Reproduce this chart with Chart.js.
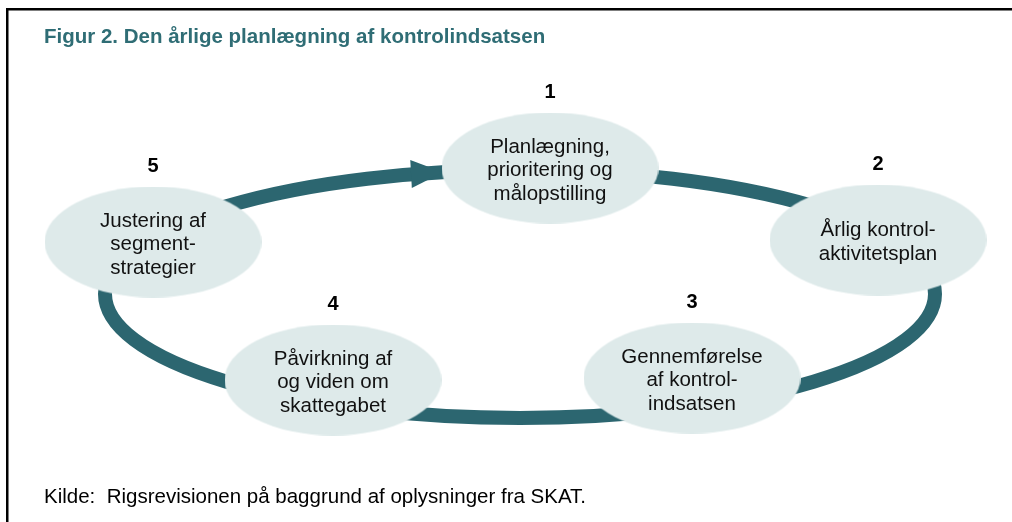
<!DOCTYPE html>
<html lang="da">
<head>
<meta charset="utf-8">
<title>Figur 2. Den årlige planlægning af kontrolindsatsen</title>
<script src="https://cdn.jsdelivr.net/npm/chart.js@4.4.1/dist/chart.umd.min.js"></script>
<style>
    html, body { margin: 0; padding: 0; background: #fff; }
    #wrap { width: 1012px; height: 522px; }
</style>
</head>
<body>
<div id="wrap"><canvas id="cycleChart" width="1012" height="522"></canvas></div>
<script>
(function () {
    var titleText = 'Figur 2. Den årlige planlægning af kontrolindsatsen';
    var sourceText = 'Kilde:  Rigsrevisionen på baggrund af oplysninger fra SKAT.';

    var stepNumbers = ['1', '2', '3', '4', '5'];
    var stepLabels = [
        ['Planlægning,', 'prioritering og', 'målopstilling'],
        ['Årlig kontrol-', 'aktivitetsplan'],
        ['Gennemførelse', 'af kontrol-', 'indsatsen'],
        ['Påvirkning af', 'og viden om', 'skattegabet'],
        ['Justering af', 'segment-', 'strategier']
    ];
    var stepX = [550, 878, 692, 333, 153];
    var stepY = [168, 240, 378, 380, 242];

    // the cycle arrow, in the same units as the steps
    var cycleCenter = [520, 294];
    var cycleRadius = [415, 124];
    var arrowTipX = 443;

    var ringColor = '#2C6670';
    var nodeColor = '#DEEAEA';
    var titleColor = '#2F6D75';
    var fontFamily = '"Liberation Sans", Arial, Helvetica, sans-serif';

    function makeNode(w, h, color) {
        var c = document.createElement('canvas');
        c.width = w;
        c.height = h;
        var g = c.getContext('2d');
        g.fillStyle = color;
        g.beginPath();
        g.ellipse(w / 2, h / 2, w / 2, h / 2, 0, 0, 2 * Math.PI);
        g.fill();
        return c;
    }

    var points = stepX.map(function (x, i) { return { x: x, y: stepY[i] }; });

    var cyclePlugin = {
        id: 'cycle',
        beforeDatasetsDraw: function (chart) {
            var ctx = chart.ctx;
            var xs = chart.scales.x;
            var ys = chart.scales.y;
            ctx.save();

            // frame
            ctx.fillStyle = '#000';
            ctx.fillRect(6, 8, 1006, 2.5);
            ctx.fillRect(6, 8, 2.5, 514);

            // title
            ctx.fillStyle = titleColor;
            ctx.font = 'bold 20.5px ' + fontFamily;
            ctx.textAlign = 'left';
            ctx.textBaseline = 'alphabetic';
            ctx.fillText(titleText, 44, 42.5);

            // source
            ctx.fillStyle = '#000';
            ctx.font = '20.5px ' + fontFamily;
            ctx.fillText(sourceText, 44, 503);

            // ring
            var cx = xs.getPixelForValue(cycleCenter[0]);
            var cy = ys.getPixelForValue(cycleCenter[1]);
            var rx = xs.getPixelForValue(cycleCenter[0] + cycleRadius[0]) - cx;
            var ry = ys.getPixelForValue(cycleCenter[1] + cycleRadius[1]) - cy;
            ctx.strokeStyle = ringColor;
            ctx.lineWidth = 14;
            ctx.beginPath();
            ctx.ellipse(cx, cy, rx, ry, 0, 0, 2 * Math.PI);
            ctx.stroke();

            // arrow head in front of step 1
            var tipPx = xs.getPixelForValue(arrowTipX);
            var t = -Math.acos((tipPx - cx) / rx);
            var tx = cx + rx * Math.cos(t);
            var ty = cy + ry * Math.sin(t);
            var dx = -rx * Math.sin(t);
            var dy = ry * Math.cos(t);
            var len = Math.sqrt(dx * dx + dy * dy);
            dx /= len;
            dy /= len;
            var bx = tx - 32 * dx;
            var by = ty - 32 * dy;
            ctx.fillStyle = ringColor;
            ctx.beginPath();
            ctx.moveTo(tx, ty);
            ctx.lineTo(bx - 14 * dy, by + 14 * dx);
            ctx.lineTo(bx + 14 * dy, by - 14 * dx);
            ctx.closePath();
            ctx.fill();

            ctx.restore();
        },
        afterDatasetsDraw: function (chart) {
            var ctx = chart.ctx;
            var meta = chart.getDatasetMeta(0);
            ctx.save();
            ctx.textAlign = 'center';
            ctx.textBaseline = 'alphabetic';
            meta.data.forEach(function (el, i) {
                ctx.fillStyle = '#000';
                ctx.font = 'bold 20px ' + fontFamily;
                ctx.fillText(stepNumbers[i], el.x, el.y - 70);

                var lines = stepLabels[i];
                ctx.fillStyle = '#111';
                ctx.font = '20.5px ' + fontFamily;
                lines.forEach(function (line, j) {
                    var off = (j - (lines.length - 1) / 2) * 23.5 + 8;
                    ctx.fillText(line, el.x, el.y + off);
                });
            });
            ctx.restore();
        }
    };

    new Chart(document.getElementById('cycleChart'), {
        type: 'scatter',
        data: {
            datasets: [{
                label: 'Trin',
                data: points,
                pointStyle: makeNode(217, 111, nodeColor),
                pointRadius: 55,
                clip: false
            }]
        },
        options: {
            responsive: false,
            animation: false,
            events: [],
            layout: { padding: 0, autoPadding: false },
            plugins: {
                legend: { display: false },
                tooltip: { enabled: false }
            },
            scales: {
                x: { type: 'linear', min: 0, max: 1012, display: false },
                y: { type: 'linear', min: 0, max: 522, reverse: true, display: false }
            }
        },
        plugins: [cyclePlugin]
    });
})();
</script>
</body>
</html>
